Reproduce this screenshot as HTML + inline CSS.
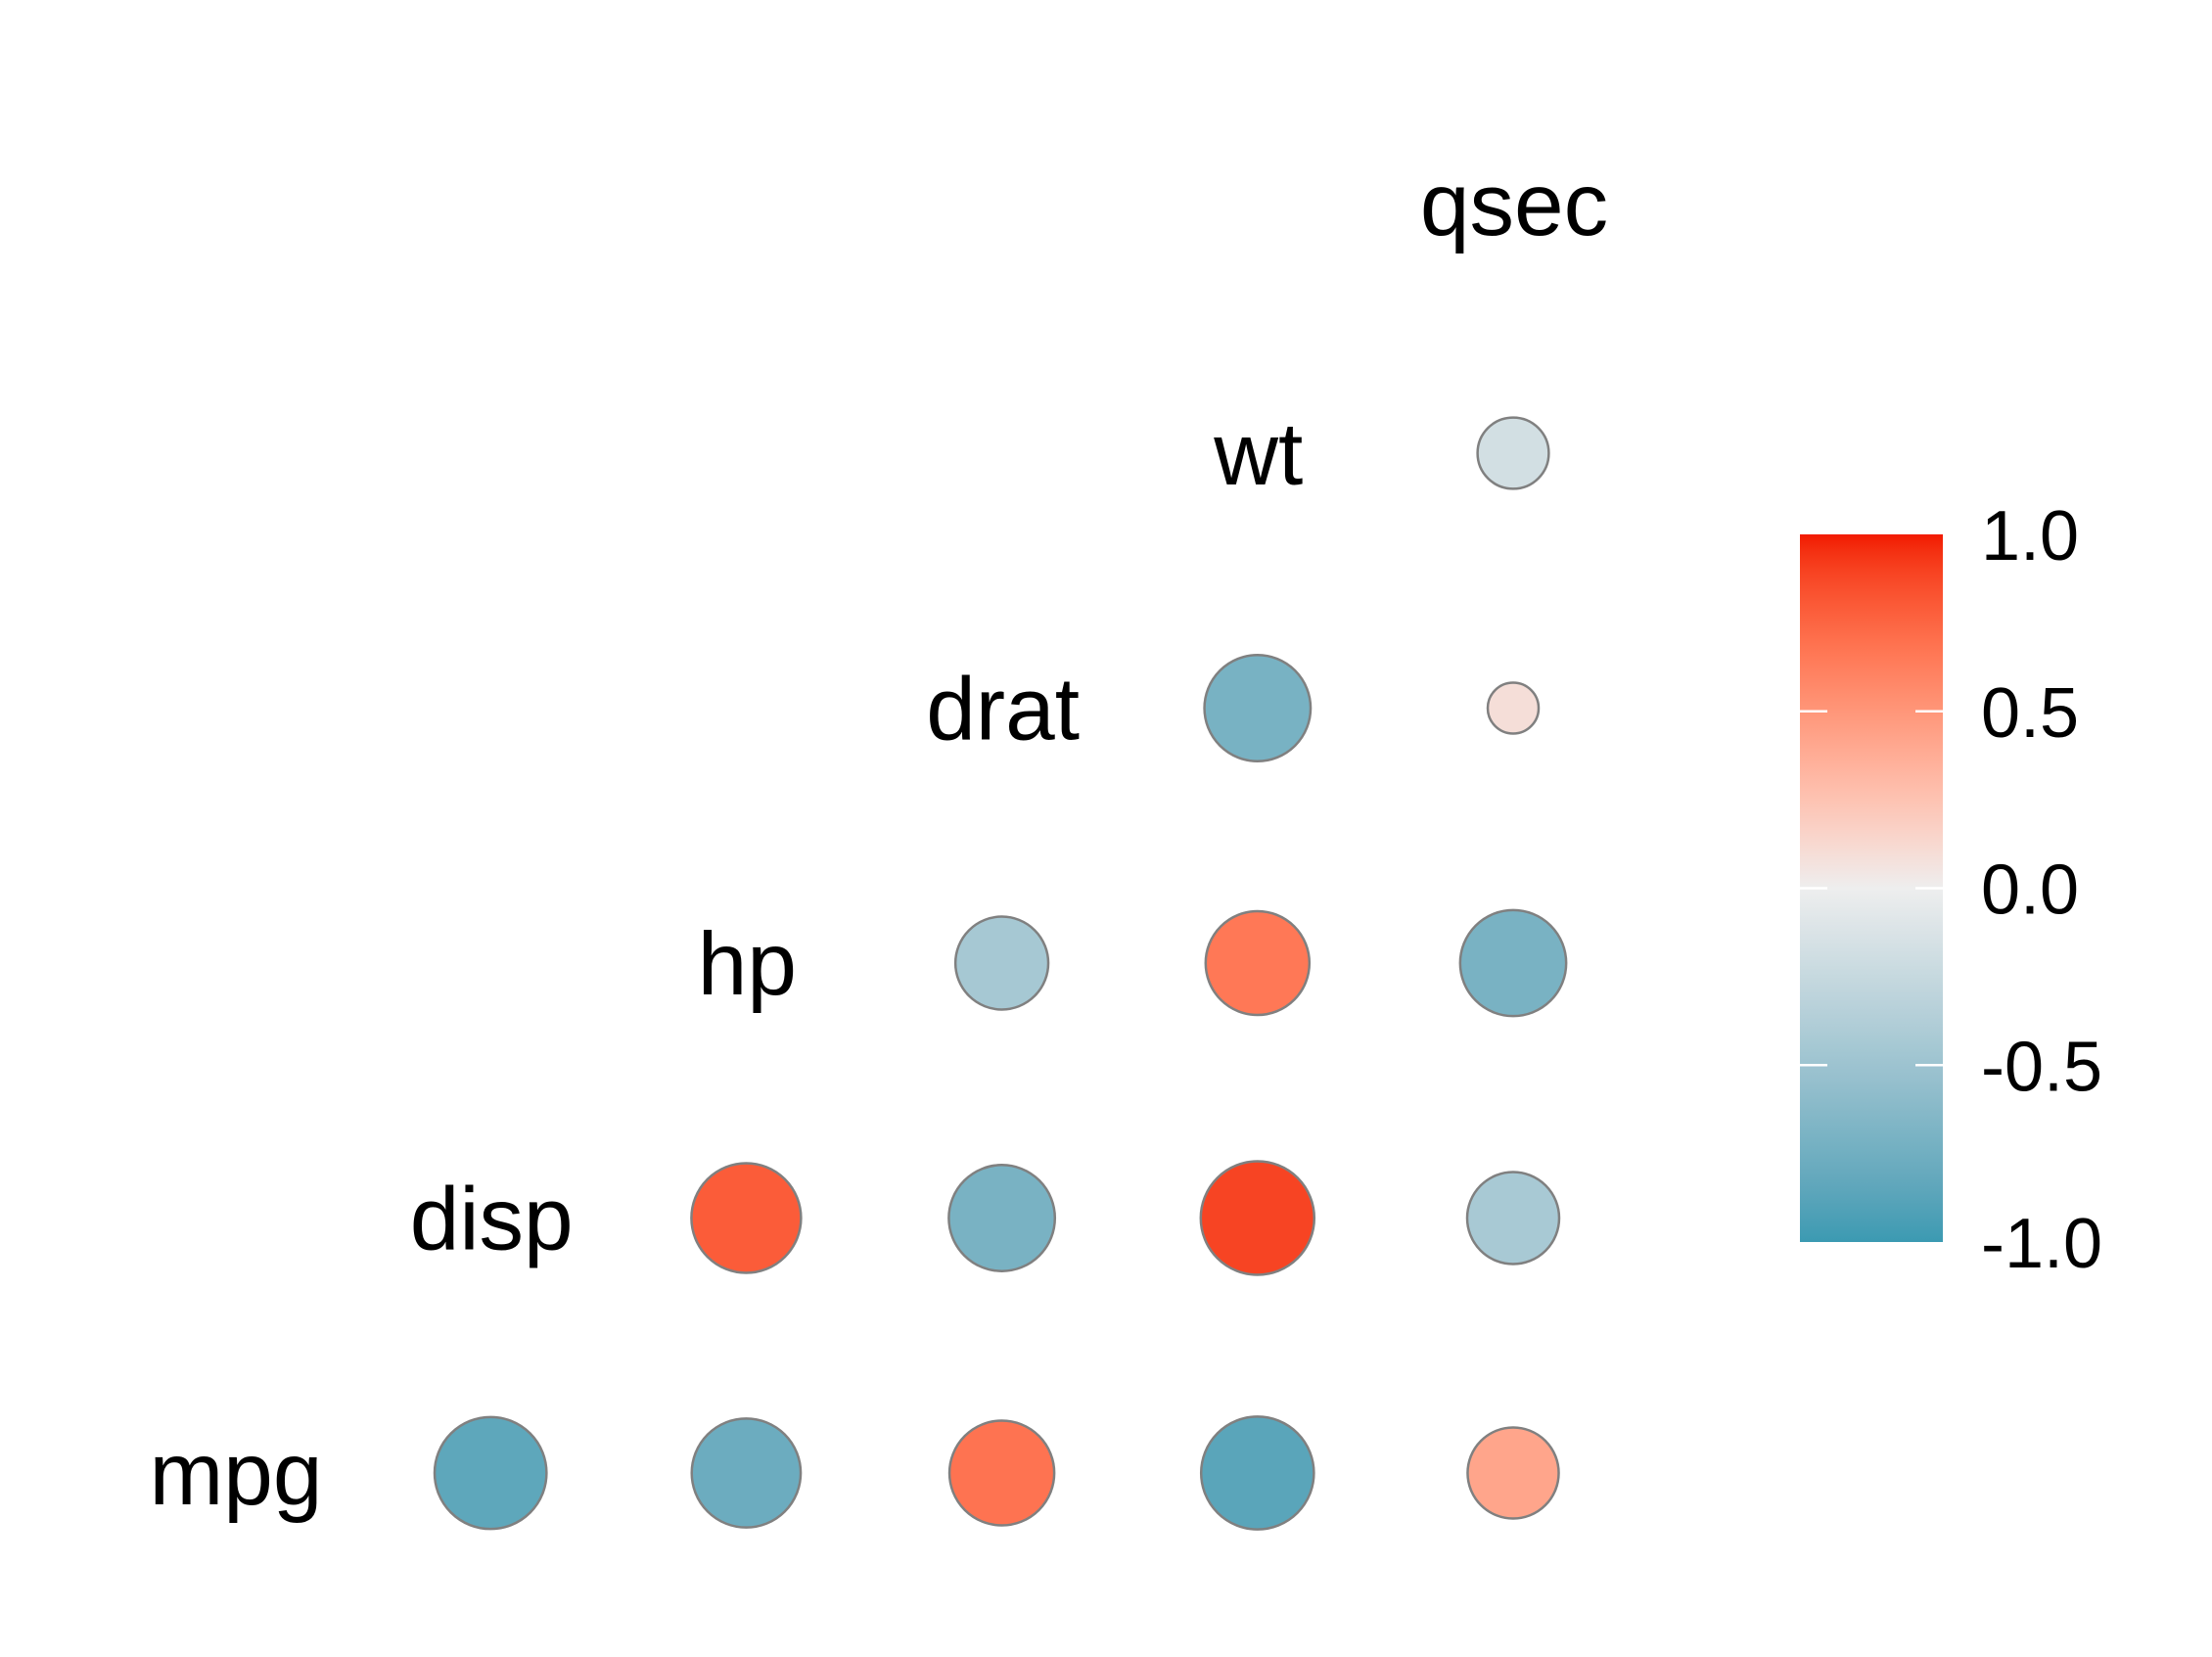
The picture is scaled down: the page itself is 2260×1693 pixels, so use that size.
<!DOCTYPE html>
<html><head><meta charset="utf-8"><style>html,body{margin:0;padding:0;background:#fff}svg{display:block}</style></head>
<body>
<svg id="chart" width="2260" height="1693" viewBox="0 0 2260 1693" font-family="Liberation Sans, Arial, sans-serif">
<defs>
<linearGradient id="cb" x1="0" y1="1" x2="0" y2="0"></linearGradient>
</defs>
<g id="cells"></g>
<g id="labels"></g>
<g id="legend">
<rect x="1839" y="546" width="146" height="723" fill="url(#cb)"/>
</g>
</svg>
<script>
const variables = ["mpg","disp","hp","drat","wt","qsec"];
// corrRows[i][j] = cor(variables[i], variables[j]) for j < i
const corrRows = [
  [],
  [-0.848],
  [-0.776, 0.791],
  [0.681, -0.710, -0.449],
  [-0.868, 0.888, 0.659, -0.712],
  [0.419, -0.434, -0.708, 0.091, -0.175]
];
const legendTicks = [-1.0, -0.5, 0.0, 0.5, 1.0];
const legendTickLabels = ["-1.0","-0.5","0.0","0.5","1.0"];

const NS="http://www.w3.org/2000/svg";
const x0=240, dx=261.2, yBottom=1505, dy=260.5;
const xPos=k=>x0+dx*k;
const yPos=r=>yBottom-dy*r;

function hex(c){return [parseInt(c.slice(1,3),16),parseInt(c.slice(3,5),16),parseInt(c.slice(5,7),16)];}
function toLin(c){c/=255;return c<=0.04045?c/12.92:Math.pow((c+0.055)/1.055,2.4);}
function fromLin(c){c=c<=0.0031308?12.92*c:1.055*Math.pow(c,1/2.4)-0.055;return Math.max(0,Math.min(255,Math.round(c*255)));}
function rgb2lab(rgb){
  const [r,g,b]=rgb.map(toLin);
  let X=(0.4124*r+0.3576*g+0.1805*b)/0.95047,Y=(0.2126*r+0.7152*g+0.0722*b),Z=(0.0193*r+0.1192*g+0.9505*b)/1.08883;
  const f=t=>t>0.008856?Math.cbrt(t):7.787*t+16/116;
  const fx=f(X),fy=f(Y),fz=f(Z);
  return [116*fy-16,500*(fx-fy),200*(fy-fz)];
}
function lab2rgb(lab){
  const fy=(lab[0]+16)/116,fx=fy+lab[1]/500,fz=fy-lab[2]/200;
  const fi=t=>t*t*t>0.008856?t*t*t:(t-16/116)/7.787;
  const X=fi(fx)*0.95047,Y=fi(fy),Z=fi(fz)*1.08883;
  const r=3.2406*X-1.5372*Y-0.4986*Z,g=-0.9689*X+1.8758*Y+0.0415*Z,b=0.0557*X-0.2040*Y+1.0570*Z;
  return [fromLin(r),fromLin(g),fromLin(b)];
}
const lo=rgb2lab(hex("#3B9AB2")), mid=rgb2lab(hex("#EEEEEE")), hi=rgb2lab(hex("#F21A00"));
function color(v){
  const b=v<0?lo:hi, t=Math.min(1,Math.abs(v));
  return "rgb("+lab2rgb([0,1,2].map(k=>mid[k]+(b[k]-mid[k])*t)).join(",")+")";
}

const grad=document.getElementById('cb');
for(let s=0;s<=40;s++){
  const st=document.createElementNS(NS,'stop');
  st.setAttribute('offset',s/40);
  st.setAttribute('stop-color',color(-1+2*s/40));
  grad.appendChild(st);
}

const allAbs=[]; corrRows.forEach(r=>r.forEach(v=>allAbs.push(Math.abs(v))));
const aMin=Math.min(...allAbs), aMax=Math.max(...allAbs);
const rMin=26, rMax=58;
function radius(v){const t=(Math.abs(v)-aMin)/(aMax-aMin);return rMin+(rMax-rMin)*Math.sqrt(t);}

const cells=document.getElementById('cells');
corrRows.forEach((row,i)=>{
  row.forEach((v,j)=>{
    const c=document.createElementNS(NS,'circle');
    
    
    c.setAttribute('cx',xPos(i));
    c.setAttribute('cy',yPos(j));
    c.setAttribute('r',radius(v));
    c.setAttribute('fill',color(v));
    c.setAttribute('stroke','#808080');
    c.setAttribute('stroke-width','2.5');
    cells.appendChild(c);
  });
});

const labels=document.getElementById('labels');
variables.forEach((name,r)=>{
  const t=document.createElementNS(NS,'text');
  
  
  t.setAttribute('x',xPos(r)+1);
  t.setAttribute('y',(r===5?208:yPos(r))+32);
  t.setAttribute('text-anchor','middle');
  t.setAttribute('font-size','91');
  t.setAttribute('fill','#000');
  t.textContent=name;
  labels.appendChild(t);
});

const legend=document.getElementById('legend');
const cbTop=546, cbBot=1269, cbL=1839, cbR=1985;
const lY=v=>cbBot-(v+1)/2*(cbBot-cbTop);
legendTicks.forEach((v,k)=>{
  if(v>-1 && v<1){
    [[cbL,cbL+28],[cbR-28,cbR]].forEach(([a,b])=>{
      const l=document.createElementNS(NS,'line');
      
      
      l.setAttribute('x1',a);l.setAttribute('x2',b);
      l.setAttribute('y1',lY(v));l.setAttribute('y2',lY(v));
      l.setAttribute('stroke','#fff');l.setAttribute('stroke-width','2.5');
      legend.appendChild(l);
    });
  }
  const t=document.createElementNS(NS,'text');
  
  
  t.setAttribute('x',2024);
  t.setAttribute('y',lY(v)+26);
  t.setAttribute('font-size','72');
  t.setAttribute('fill','#000');
  t.textContent=legendTickLabels[k];
  legend.appendChild(t);
});
</script>
</body></html>
